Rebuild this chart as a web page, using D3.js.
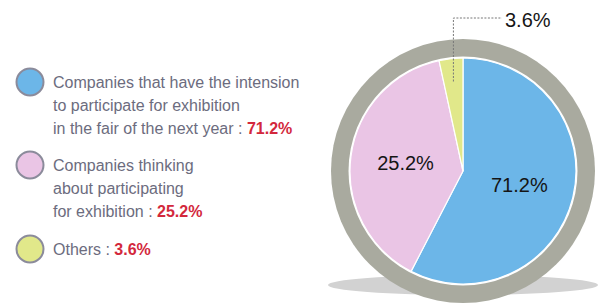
<!DOCTYPE html>
<html>
<head>
<meta charset="utf-8">
<script src="https://cdn.jsdelivr.net/npm/d3@7"></script>
<style>
  html, body { margin: 0; padding: 0; background: #fff; }
  svg { display: block; }
</style>
</head>
<body>
<svg id="chart" width="604" height="303"></svg>
<script>
// ---- data ----
const categories = ["intend", "thinking", "others"];
const legendLines = [
  ["Companies that have the intension", "to participate for exhibition", "in the fair of the next year : "],
  ["Companies thinking", "about participating", "for exhibition : "],
  ["Others : "]
];
const values = [71.2, 25.2, 3.6];           // printed percentages
// slice sizes as drawn in the reference picture (angle shares)
const drawnShares = [57.6, 39.0, 3.4];
const colors = ["#6cb6e8", "#eac5e5", "#e1e88a"];

// ---- layout ----
const svg = d3.select("#chart");
const cx = 463, cy = 171;
const rInner = 113, rRing = 132;

// shadow under the ring
svg.append("ellipse")
  .attr("cx", cx).attr("cy", 285)
  .attr("rx", 135).attr("ry", 10)
  .attr("fill", "#d2d2d2");

const g = svg.append("g").attr("transform", `translate(${cx},${cy})`);

// grey ring
g.append("circle").attr("r", rRing).attr("fill", "#a9aa9f");
g.append("circle").attr("r", rInner + 1.5).attr("fill", "#fff");

const pie = d3.pie().sort(null).value(d => d.share);
const data = categories.map((c, i) => ({ cat: c, share: drawnShares[i], value: values[i], color: colors[i] }));
const arcs = pie(data);
const arc = d3.arc().innerRadius(0).outerRadius(rInner);
const labelArc = d3.arc().innerRadius(58).outerRadius(58);
const leaderArc = d3.arc().innerRadius(90).outerRadius(90);

g.selectAll("path.slice").data(arcs).enter().append("path")
  .attr("class", "slice")
  .attr("d", arc)
  .attr("fill", d => d.data.color)
  .attr("stroke", "#fff")
  .attr("stroke-width", 1.2);

const fmt = v => d3.format(".1f")(v) + "%";

// inside labels for the two big slices
g.selectAll("text.inlabel").data(arcs.slice(0, 2)).enter().append("text")
  .attr("class", "inlabel")
  .attr("x", d => labelArc.centroid(d)[0])
  .attr("y", d => labelArc.centroid(d)[1] + 7)
  .attr("text-anchor", "middle")
  .attr("font-family", "Liberation Sans, Arial, sans-serif")
  .attr("font-size", 20)
  .attr("fill", "#151515")
  .text(d => fmt(d.data.value));

// leader line for the small slice
const small = arcs[2];
const p0 = leaderArc.centroid(small);
const topY = 18 - cy;
const endX = 502 - cx;
g.append("path")
  .attr("d", d3.line()([[p0[0], p0[1]], [p0[0], topY], [endX, topY]]))
  .attr("fill", "none")
  .attr("stroke", "#777")
  .attr("stroke-width", 1)
  .attr("stroke-dasharray", "2,1.5");
g.append("text")
  .attr("x", endX + 3).attr("y", topY + 9)
  .attr("font-family", "Liberation Sans, Arial, sans-serif")
  .attr("font-size", 20)
  .attr("fill", "#151515")
  .text(fmt(small.data.value));

// ---- legend ----
const circleY = [82, 165, 249];
const firstBaseline = [88, 171, 255];
const lineH = 23;
const legend = svg.append("g");
data.forEach((d, i) => {
  legend.append("circle")
    .attr("cx", 30).attr("cy", circleY[i]).attr("r", 13.5)
    .attr("fill", d.color)
    .attr("stroke", "#8b8b9b").attr("stroke-width", 2);
  legendLines[i].forEach((line, j) => {
    const t = legend.append("text")
      .attr("x", 53).attr("y", firstBaseline[i] + j * lineH)
      .attr("font-family", "Liberation Sans, Arial, sans-serif")
      .attr("font-size", 16)
      .attr("fill", "#6c6c7e");
    t.append("tspan").text(line);
    if (j === legendLines[i].length - 1) {
      t.append("tspan").attr("fill", "#d3283c").attr("font-weight", "bold").text(fmt(d.value));
    }
  });
});
</script>
</body>
</html>
